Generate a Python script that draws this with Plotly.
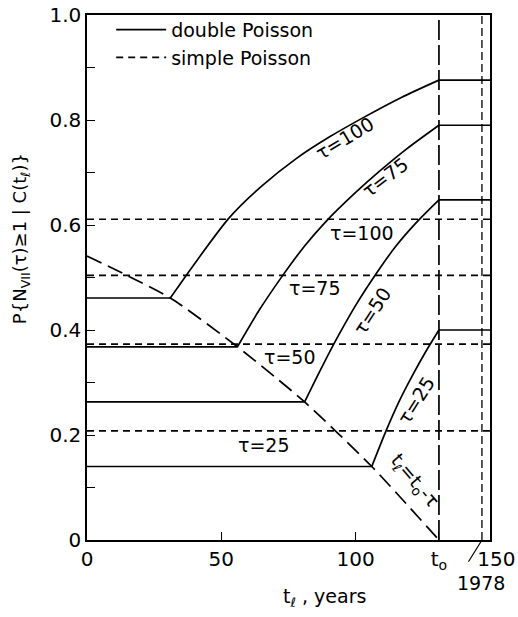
import plotly.graph_objects as go

# ---------------- data ----------------
T0 = 131            # t_o (present time)
T_1978 = 147        # position of the 1978 line
X_END = 150

tau_values = [100, 75, 50, 25]

# double Poisson: rising part from t_l = t0 - tau up to t0
dp_t = {
    100: [31, 41, 53, 65, 78, 90, 103, 117, 131],
    75:  [56, 64, 73, 81, 89, 100, 109, 119, 131],
    50:  [81, 87, 93, 100, 108, 115, 123, 131],
    25:  [106, 111, 116, 121, 126, 131],
}
dp_p = {
    100: [0.461, 0.533, 0.614, 0.674, 0.727, 0.767, 0.805, 0.843, 0.876],
    75:  [0.368, 0.437, 0.505, 0.560, 0.607, 0.662, 0.703, 0.745, 0.790],
    50:  [0.263, 0.325, 0.384, 0.447, 0.510, 0.560, 0.607, 0.648],
    25:  [0.140, 0.204, 0.262, 0.312, 0.358, 0.400],
}

# simple Poisson (constant)
sp_p = {100: 0.611, 75: 0.504, 50: 0.373, 25: 0.208}

# locus t_l = t0 - tau
locus_t = [0, 31, 56, 81, 106, 131]
locus_p = [0.541, 0.461, 0.368, 0.263, 0.140, 0.0]

y_tickvals = [0, 0.1, 0.2, 0.3, 0.4, 0.5, 0.6, 0.7, 0.8, 0.9, 1.0]
y_ticktext = ["0", "", "0.2", "", "0.4", "", "0.6", "", "0.8", "", "1.0"]
x_tickvals = [0, 50, 100, T0, X_END]
x_ticktext = ["0", "50", "100", "t<sub>o</sub>", "\u00a0\u00a0150"]

FONT = "DejaVu Sans"
LW = 1.7
BLACK = "black"

fig = go.Figure()

# simple Poisson lines
for i, tau in enumerate(tau_values):
    fig.add_trace(go.Scatter(
        x=[0, X_END], y=[sp_p[tau], sp_p[tau]], mode="lines",
        line=dict(color=BLACK, width=LW, dash="7px,5px"),
        name="simple Poisson", legendgroup="sp", showlegend=(i == 0),
        legendrank=2, hoverinfo="skip"))

# double Poisson curves: plateau before, rising curve, plateau after
for i, tau in enumerate(tau_values):
    ts, ps = dp_t[tau], dp_p[tau]
    fig.add_trace(go.Scatter(
        x=ts, y=ps, mode="lines",
        line=dict(color=BLACK, width=LW, shape="spline", smoothing=0.8),
        name="double Poisson", legendgroup="dp", showlegend=(i == 0),
        legendrank=1, hoverinfo="skip"))
    fig.add_trace(go.Scatter(
        x=[0, ts[0]], y=[ps[0], ps[0]], mode="lines",
        line=dict(color=BLACK, width=LW), legendgroup="dp",
        showlegend=False, hoverinfo="skip"))
    fig.add_trace(go.Scatter(
        x=[ts[-1], X_END], y=[ps[-1], ps[-1]], mode="lines",
        line=dict(color=BLACK, width=LW), legendgroup="dp",
        showlegend=False, hoverinfo="skip"))

# locus t_l = t0 - tau
fig.add_trace(go.Scatter(
    x=locus_t, y=locus_p, mode="lines",
    line=dict(color=BLACK, width=LW, dash="16px,7px", shape="spline", smoothing=0.6),
    showlegend=False, hoverinfo="skip"))

# vertical lines at t0 and 1978
fig.add_trace(go.Scatter(
    x=[T0, T0], y=[0, 1], mode="lines",
    line=dict(color=BLACK, width=LW, dash="20px,5px"),
    showlegend=False, hoverinfo="skip"))
fig.add_trace(go.Scatter(
    x=[T_1978, T_1978], y=[0, 1], mode="lines",
    line=dict(color=BLACK, width=1.3, dash="8px,4px"),
    showlegend=False, hoverinfo="skip"))

# curve labels
labels = [
    # text, x, y, angle
    ("τ=100", 96, 0.765, -31),
    ("τ=75", 111, 0.692, -37),
    ("τ=100", 102.5, 0.585, 0),
    ("τ=75", 85, 0.48, 0),
    ("τ=50", 106, 0.437, -57),
    ("τ=50", 75.5, 0.349, 0),
    ("τ=25", 122.5, 0.267, -58),
    ("τ=25", 66, 0.181, 0),
    ("t<sub>ℓ</sub>=t<sub>o</sub>-τ", 122, 0.112, 50),
]
for txt, x, y, ang in labels:
    fig.add_annotation(x=x, y=y, xref="x", yref="y", text=txt, textangle=ang,
                       xanchor="center", yanchor="middle",
                       showarrow=False, font=dict(family=FONT, size=19, color=BLACK))

# 1978 label with leader line
fig.add_annotation(x=T_1978, y=0, xref="x", yref="y", text=" ", showarrow=True,
                   arrowhead=0, arrowwidth=1.2, arrowcolor=BLACK,
                   ax=-18, ay=29, standoff=2)
fig.add_annotation(x=146.5, y=-0.082, xref="x", yref="paper", text="1978",
                   xanchor="center", yanchor="middle",
                   showarrow=False, font=dict(family=FONT, size=19, color=BLACK))

# axis titles
fig.add_annotation(x=-0.165, y=0.574, xref="paper", yref="paper",
                   text="P{N<sub>VII</sub>(τ)≥1 | C(t<sub>ℓ</sub>)}",
                   textangle=-90, showarrow=False, xanchor="center", yanchor="middle",
                   font=dict(family=FONT, size=18, color=BLACK))
fig.add_annotation(x=0.59, y=-0.11, xref="paper", yref="paper",
                   text="t<sub>ℓ</sub> , years", showarrow=False,
                   xanchor="center", yanchor="middle",
                   font=dict(family=FONT, size=19, color=BLACK))

fig.update_layout(
    width=518, height=617,
    margin=dict(l=87, r=28, t=15, b=77, autoexpand=False),
    paper_bgcolor="white", plot_bgcolor="white",
    font=dict(family=FONT, size=19, color=BLACK),
    legend=dict(x=0.06, y=1.008, xanchor="left", yanchor="top",
                bgcolor="rgba(0,0,0,0)", font=dict(family=FONT, size=19),
                tracegroupgap=0, itemwidth=50),
    xaxis=dict(range=[0, X_END], tickvals=x_tickvals, ticktext=x_ticktext,
               ticks="inside", ticklen=8, tickcolor=BLACK, showgrid=False,
               zeroline=False, showline=True, linecolor=BLACK, linewidth=1.5,
               mirror=True, automargin=False, ticklabeloverflow="allow",
               tickfont=dict(family=FONT, size=20)),
    yaxis=dict(range=[0, 1.0], tickvals=y_tickvals, ticktext=y_ticktext,
               ticks="inside", ticklen=8, tickcolor=BLACK, showgrid=False,
               zeroline=False, showline=True, linecolor=BLACK, linewidth=1.5,
               mirror=True, automargin=False, ticklabeloverflow="allow",
               tickfont=dict(family=FONT, size=20)),
)

# remove the browser's default 8px body margin so the figure fills the window
fig.write_html("out.html", config={"displayModeBar": False},
               post_script="document.body.style.margin='0px';")
